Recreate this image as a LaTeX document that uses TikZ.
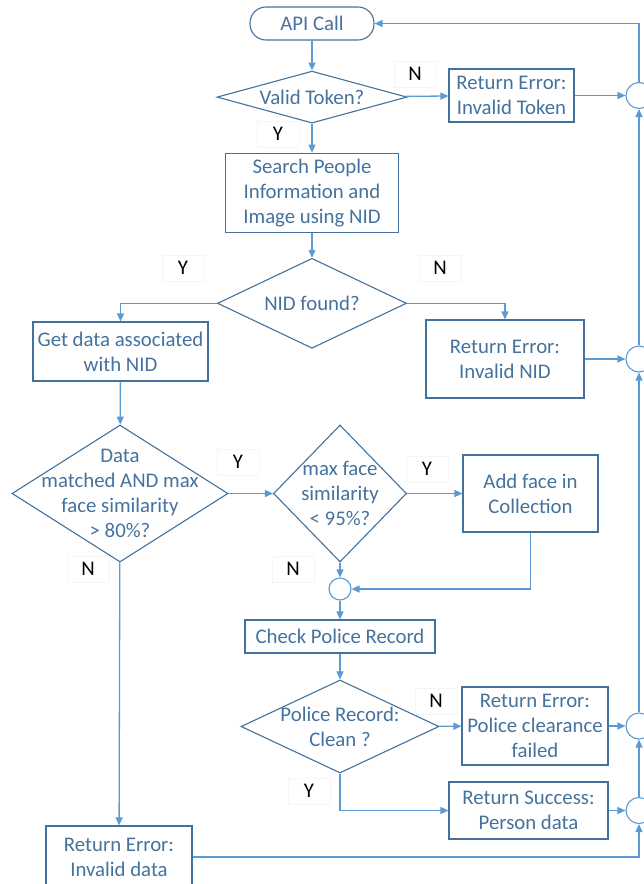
\documentclass[tikz,border=0pt]{standalone}
\usepackage{fontspec}
\setmainfont{Carlito}
\usepackage{xcolor}
\usetikzlibrary{shapes.geometric,arrows.meta,positioning}
\definecolor{lineblue}{HTML}{5B9BD5}
\definecolor{edgeblue}{HTML}{41719C}
\definecolor{textblue}{HTML}{44729D}
\newcommand{\flowfont}{\fontsize{20.8}{25}\selectfont}
\tikzset{
	flowbox/.style={draw=edgeblue, line width=1.1pt, text=textblue, align=center, inner sep=0pt, font=\flowfont},
	terminal/.style={flowbox, rounded corners=16pt},
	declabel/.style={text=textblue, align=center, inner sep=0pt, font=\flowfont},
	decision/.style={diamond, draw=edgeblue, line width=1.1pt, inner sep=0pt, label={[declabel]center:{#1}}},
	joint/.style={circle, draw=lineblue, line width=1.1pt, fill=white, inner sep=0pt},
	tag/.style={draw=black!4, fill=white, text=black, inner sep=0pt, minimum width=42pt, minimum height=26pt, font=\flowfont},
	conn/.style={draw=lineblue, line width=1.3pt, ->},
}

\begin{document}
\begin{tikzpicture}[x=1pt,y=-1pt,>={Triangle[length=8pt,width=7pt]}]
	\useasboundingbox (0,0) rectangle (643,884);
	\node[terminal, minimum width=124pt, minimum height=33pt] (api) at (312,23.5) {API Call};
	\node[decision={Valid Token?}, minimum width=190pt, minimum height=52pt, below=30pt of api] (valid) {};
	\node[flowbox, minimum width=125pt, minimum height=53pt] (tokerr) at (511.5,95.5) {Return Error:\\Invalid Token};
	\node[flowbox, minimum width=173pt, minimum height=79pt, below=29pt of valid] (search) {Search People\\Information and\\Image using NID};
	\node[decision={NID found?}, minimum width=189pt, minimum height=90pt, below=25pt of search] (nid) {};
	\node[flowbox, minimum width=175pt, minimum height=59pt] (getdata) at (120.5,351.5) {Get data associated\\with NID};
	\node[flowbox, minimum width=158pt, minimum height=78pt] (niderr) at (505,359) {Return Error:\\Invalid NID};
	\node[decision={Data\\matched AND max\\face similarity\\> 80\%?}, minimum width=216pt, minimum height=137pt] (data) at (120,493.5) {};
	\node[decision={max face\\similarity\\< 95\%?}, minimum width=133pt, minimum height=137pt] (face) at (340,493.5) {};
	\node[flowbox, minimum width=135pt, minimum height=77pt] (addface) at (530.5,493.5) {Add face in\\Collection};
	\node[joint, minimum size=22pt] (merge) at (340,589) {};
	\node[flowbox, minimum width=190pt, minimum height=33pt] (police) at (340,636.5) {Check Police Record};
	\node[decision={Police Record:\\Clean ?}, minimum width=198pt, minimum height=93pt] (clean) at (340,726.5) {};
	\node[flowbox, minimum width=146pt, minimum height=78pt] (clearerr) at (535,726) {Return Error:\\Police clearance\\failed};
	\node[flowbox, minimum width=159pt, minimum height=57pt] (success) at (528.5,810.5) {Return Success:\\Person data};
	\node[flowbox, minimum width=146pt, minimum height=62pt] (dataerr) at (119,857) {Return Error:\\Invalid data};
	%
	\node[joint, minimum size=26pt] (c1) at (639,95.5) {};
	\node[joint, minimum size=26pt] (c2) at (639,359) {};
	\node[joint, minimum size=26pt] (c3) at (639,726) {};
	\node[joint, minimum size=26pt] (c4) at (639,810.5) {};
	%
	\node[tag] (nvalid) at (415,74) {N};
	\node[tag] (yvalid) at (278,134) {Y};
	\node[tag] (ynid) at (183,268) {Y};
	\node[tag] (nnid) at (440,268) {N};
	\node[tag] (ydata) at (238,462) {Y};
	\node[tag] (ndata) at (88,569) {N};
	\node[tag] (yface) at (427,469) {Y};
	\node[tag] (nface) at (293,569) {N};
	\node[tag] (nclean) at (436,701) {N};
	\node[tag] (yclean) at (309,791) {Y};
	%
	\draw[conn] (api) -- (valid);
	\draw[conn] (valid) -- (tokerr);
	\draw[conn] (valid) -- (search);
	\draw[conn] (search) -- (nid);
	\draw[conn] (nid.west) -| (getdata.north);
	\draw[conn] (nid.east) -| (niderr.north);
	\draw[conn] (getdata) -- (data);
	\draw[conn] (data) -- (face);
	\draw[conn] (face) -- (addface);
	\draw[conn] (face) -- (merge);
	\draw[conn] (addface.south) |- (merge.east);
	\draw[conn] (merge) -- (police);
	\draw[conn] (police) -- (clean);
	\draw[conn] (clean) -- (clearerr);
	\draw[conn] (clean.south) |- (success.west);
	\draw[conn] (data) -- (dataerr);
	\draw[conn] (tokerr) -- (c1);
	\draw[conn] (niderr) -- (c2);
	\draw[conn] (clearerr) -- (c3);
	\draw[conn] (success) -- (c4);
	\draw[conn] (dataerr.east) -| (c4.south);
	\draw[conn] (c4) -- (c3);
	\draw[conn] (c3) -- (c2);
	\draw[conn] (c2) -- (c1);
	\draw[conn] (c1.north) |- (api.east);
\end{tikzpicture}
\end{document}
